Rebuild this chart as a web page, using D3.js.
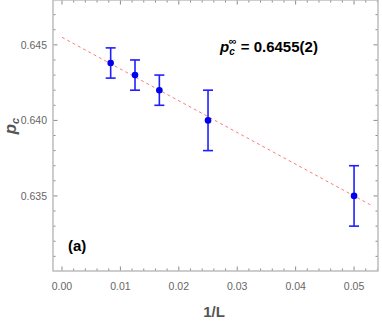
<!DOCTYPE html>
<html>
<head>
<meta charset="utf-8">
<script src="https://cdn.jsdelivr.net/npm/d3@7"></script>
<style>
  body { margin: 0; background: #fff; }
  text { font-family: "Liberation Sans", Arial, sans-serif; }
</style>
</head>
<body>
<div id="chart"></div>
<script>
// data
const invL = [1 / 120, 1 / 80, 1 / 60, 1 / 40, 1 / 20];
const pc = [0.6438, 0.6430, 0.6420, 0.6400, 0.6350];
const pcErr = [0.001, 0.001, 0.001, 0.002, 0.002];
const fitIntercept = 0.6455;
const fitSlope = -0.21;
const fitRange = [0, 0.0528];
const xTicks = [0, 0.01, 0.02, 0.03, 0.04, 0.05];
const yTicks = [0.635, 0.640, 0.645];

const width = 382;
const height = 327;
const margin = { top: 0, right: 4, bottom: 56, left: 53 };

const svg = d3.select("#chart")
    .append("svg")
    .attr("width", width)
    .attr("height", height);

const x = d3.scaleLinear()
    .domain([-0.00154, 0.0541])
    .range([margin.left, width - margin.right]);

const y = d3.scaleLinear()
    .domain([0.63003, 0.64797])
    .range([height - margin.bottom, margin.top]);

const frameColor = "#bdbdbd";
const tickColor = "#8a8a8a";
const labelColor = "#666";

// minor ticks
const xMinor = d3.range(0, 0.0541, 0.002);
const yMinor = d3.range(0.631, 0.648, 0.001);

const ticks = svg.append("g").attr("stroke", tickColor).attr("stroke-width", 1);
const x0 = x.range()[0], x1 = x.range()[1];
const y0 = y.range()[0], y1 = y.range()[1];

xMinor.forEach(v => {
    const major = xTicks.some(t => Math.abs(t - v) < 1e-6);
    const len = major ? 4.5 : 2.5;
    ticks.append("line").attr("x1", x(v)).attr("x2", x(v)).attr("y1", y0).attr("y2", y0 - len);
    ticks.append("line").attr("x1", x(v)).attr("x2", x(v)).attr("y1", y1).attr("y2", y1 + len);
});
yMinor.forEach(v => {
    const major = yTicks.some(t => Math.abs(t - v) < 1e-6);
    const len = major ? 4.5 : 2.5;
    ticks.append("line").attr("y1", y(v)).attr("y2", y(v)).attr("x1", x0).attr("x2", x0 + len);
    ticks.append("line").attr("y1", y(v)).attr("y2", y(v)).attr("x1", x1).attr("x2", x1 - len);
});

// frame
svg.append("rect")
    .attr("x", x0)
    .attr("y", y1)
    .attr("width", x1 - x0)
    .attr("height", y0 - y1)
    .attr("fill", "none")
    .attr("stroke", frameColor)
    .attr("stroke-width", 1.5);

// tick labels
svg.append("g")
    .selectAll("text")
    .data(xTicks)
    .join("text")
    .attr("x", d => x(d))
    .attr("y", y0 + 19)
    .attr("text-anchor", "middle")
    .attr("fill", labelColor)
    .style("font-size", "10.5px")
    .text(d => d.toFixed(2));

svg.append("g")
    .selectAll("text")
    .data(yTicks)
    .join("text")
    .attr("x", x0 - 6)
    .attr("y", d => y(d) + 4)
    .attr("text-anchor", "end")
    .attr("fill", labelColor)
    .style("font-size", "10.5px")
    .text(d => d.toFixed(3));

// fit line
const line = d3.line().x(d => x(d)).y(d => y(fitIntercept + fitSlope * d));
svg.append("path")
    .attr("d", line(fitRange))
    .attr("fill", "none")
    .attr("stroke", "#ff6b6b")
    .attr("stroke-width", 0.9)
    .attr("stroke-dasharray", "3,3");

// error bars
const pts = invL.map((v, i) => ({ x: v, y: pc[i], e: pcErr[i] }));
const bars = svg.append("g").attr("stroke", "#1f1fff").attr("stroke-width", 1.6);
bars.selectAll("line.v")
    .data(pts)
    .join("line")
    .attr("x1", d => x(d.x)).attr("x2", d => x(d.x))
    .attr("y1", d => y(d.y - d.e)).attr("y2", d => y(d.y + d.e));
bars.selectAll("line.top")
    .data(pts)
    .join("line")
    .attr("x1", d => x(d.x) - 5).attr("x2", d => x(d.x) + 5)
    .attr("y1", d => y(d.y + d.e)).attr("y2", d => y(d.y + d.e));
bars.selectAll("line.bot")
    .data(pts)
    .join("line")
    .attr("x1", d => x(d.x) - 5).attr("x2", d => x(d.x) + 5)
    .attr("y1", d => y(d.y - d.e)).attr("y2", d => y(d.y - d.e));

svg.append("g")
    .selectAll("circle")
    .data(pts)
    .join("circle")
    .attr("cx", d => x(d.x))
    .attr("cy", d => y(d.y))
    .attr("r", 3.3)
    .attr("fill", "#0000ee");

// axis labels
svg.append("text")
    .attr("x", 214)
    .attr("y", 317)
    .attr("text-anchor", "middle")
    .attr("fill", "#555")
    .style("font-size", "15px")
    .style("font-weight", "bold")
    .text("1/L");

const yl = svg.append("text")
    .attr("transform", `translate(16,126) rotate(-90)`)
    .attr("text-anchor", "middle")
    .attr("fill", "#555")
    .style("font-size", "17px")
    .style("font-weight", "bold")
    .style("font-style", "italic");
yl.append("tspan").text("p");
yl.append("tspan").attr("dy", 3).style("font-size", "11px").text("c");

// annotations
const ann = svg.append("text")
    .attr("x", 220)
    .attr("y", 52)
    .attr("fill", "#000")
    .style("font-size", "15px")
    .style("font-weight", "bold");
ann.append("tspan").style("font-style", "italic").text("p");
ann.append("tspan").attr("dy", 3).style("font-size", "10px").style("font-style", "italic").text("c");
ann.append("tspan").attr("dx", -6).attr("dy", -10).style("font-size", "11px").text("∞");
ann.append("tspan").attr("dy", 7).text(" = 0.6455(2)");

svg.append("text")
    .attr("x", 68)
    .attr("y", 251)
    .attr("fill", "#000")
    .style("font-size", "15px")
    .style("font-weight", "bold")
    .text("(a)");
</script>
</body>
</html>
